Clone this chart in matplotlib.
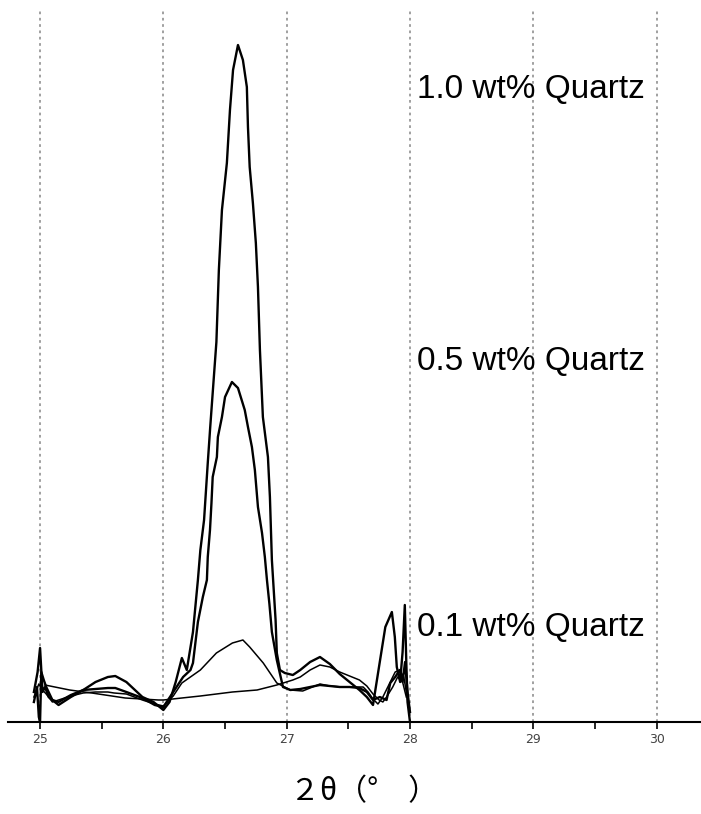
import numpy as np
import matplotlib
matplotlib.use("Agg")
import matplotlib.pyplot as plt
from matplotlib.ticker import MultipleLocator

# XRD scans around the quartz (101) reflection, 2theta in degrees, intensity in counts
tt_10 = [24.95, 24.98, 25.00, 25.02, 25.04, 25.07, 25.15, 25.25, 25.35, 25.45, 25.55, 25.61,
         25.70, 25.83, 25.92, 26.00, 26.05, 26.10, 26.15, 26.19, 26.24, 26.27, 26.28, 26.30,
         26.33, 26.36, 26.38, 26.40, 26.43, 26.45, 26.475, 26.515, 26.54, 26.565, 26.605,
         26.645, 26.677, 26.686, 26.70, 26.726, 26.75, 26.767, 26.783, 26.807, 26.848, 26.864,
         26.88, 26.91, 26.92, 26.945, 26.985, 27.05, 27.11, 27.19, 27.27, 27.35, 27.43, 27.51,
         27.59, 27.65, 27.70, 27.755, 27.80, 27.853, 27.877, 27.893, 27.92, 27.94, 27.958,
         27.97, 27.98, 27.998]
int_10 = [30, 50, 74, 30, 35, 25, 17, 25, 32, 40, 45, 46,
          40, 25, 20, 12, 20, 40, 64, 52, 90, 129, 142, 172,
          202, 259, 295, 329, 380, 452, 512, 559, 612, 652, 677,
          662, 635, 595, 555, 519, 479, 435, 372, 305, 265, 225,
          162, 102, 69, 52, 49, 47, 52, 60, 65, 58, 48, 40,
          32, 25, 17, 60, 95, 110, 85, 55, 40, 70, 117,
          60, 20, 2]

tt_05 = [24.95, 24.975, 24.99, 25.00, 25.01, 25.03, 25.05, 25.10, 25.15, 25.25, 25.35, 25.45,
         25.55, 25.61, 25.70, 25.83, 25.93, 26.00, 26.08, 26.16, 26.22, 26.24, 26.28, 26.32,
         26.353, 26.36, 26.378, 26.39, 26.40, 26.434, 26.442, 26.475, 26.50, 26.556, 26.605,
         26.66, 26.686, 26.718, 26.742, 26.767, 26.80, 26.823, 26.84, 26.86, 26.88, 26.92,
         26.97, 27.03, 27.11, 27.27, 27.35, 27.43, 27.51, 27.59, 27.65, 27.70, 27.755, 27.81,
         27.84, 27.88, 27.917, 27.94, 27.96, 27.98, 28.00]
int_05 = [20, 35, 5, 0, 50, 42, 35, 22, 20, 27, 32, 33,
          34, 34, 30, 24, 17, 15, 30, 45, 52, 59, 100, 125,
          142, 165, 192, 219, 245, 265, 285, 305, 325, 340, 334,
          312, 295, 275, 252, 215, 189, 165, 142, 118, 90, 62,
          35, 32, 33, 37, 36, 35, 35, 34, 30, 22, 25, 22,
          39, 45, 52, 40, 60, 30, 10]

tt_01 = [24.95, 24.99, 25.02, 25.05, 25.10, 25.15, 25.25, 25.35, 25.45, 25.55, 25.60, 25.70,
         25.83, 25.93, 26.00, 26.08, 26.15, 26.30, 26.43, 26.56, 26.645, 26.70, 26.81, 26.92,
         27.03, 27.13, 27.27, 27.35, 27.45, 27.55, 27.62, 27.66, 27.70, 27.74, 27.78, 27.836,
         27.88, 27.917, 27.95, 27.97, 27.99]
int_01 = [25, 38, 32, 28, 20, 22, 26, 29, 30, 30, 29, 28,
          22, 18, 16, 26, 39, 52, 69, 79, 82, 75, 59, 39,
          32, 31, 38, 36, 35, 35, 35, 30, 23, 18, 25, 39,
          50, 52, 45, 30, 15]

tt_00 = [25.04, 25.24, 25.42, 25.69, 25.96, 26.00, 26.30, 26.56, 26.76, 26.92, 27.05, 27.11,
         27.19, 27.27, 27.35, 27.43, 27.51, 27.59, 27.65, 27.70, 27.75, 27.78, 27.81, 27.86,
         27.90, 27.94, 27.97]
int_00 = [37, 32, 29, 24, 22, 22, 26, 30, 32, 37, 42, 45,
          52, 57, 55, 50, 46, 42, 36, 28, 22, 20, 25, 35,
          45, 40, 25]

labels = ["1.0 wt% Quartz", "0.5 wt% Quartz", "0.1 wt% Quartz"]
label_y = [632, 360, 94]

fig = plt.figure(figsize=(7.01, 8.14), dpi=100)
ax = fig.add_axes([8 / 701, 92 / 814, 693 / 701, 712 / 814])

ax.plot(tt_10, int_10, color="black", lw=1.7)
ax.plot(tt_05, int_05, color="black", lw=1.7)
ax.plot(tt_01, int_01, color="black", lw=1.1)
ax.plot(tt_00, int_00, color="black", lw=1.1)

for txt, yv in zip(labels, label_y):
    ax.text(28.055, yv, txt, fontsize=24, va="center", ha="left",
            family=["Liberation Sans", "DejaVu Sans"])

ax.set_xlim(24.74, 30.36)
ax.set_ylim(0, 712)

ax.xaxis.set_major_locator(MultipleLocator(1))
ax.xaxis.set_minor_locator(MultipleLocator(0.5))
ax.grid(axis="x", which="major", color="#999999", linestyle=(0, (1.5, 2)), lw=1.3)
ax.set_axisbelow(True)
ax.tick_params(axis="x", which="both", direction="out", length=5, width=1.2,
               color="black", labelsize=9, labelcolor="#444444", pad=3)
ax.yaxis.set_visible(False)
for side in ["top", "left", "right"]:
    ax.spines[side].set_visible(False)
ax.spines["bottom"].set_linewidth(1.5)

fig.text(290 / 701, 1 - 792 / 814, "２θ（°\u3000）", fontsize=21.5, ha="left", va="center",
         family=["Noto Sans CJK JP", "DejaVu Sans"])

fig.savefig("out.png", dpi=100, facecolor="white")
